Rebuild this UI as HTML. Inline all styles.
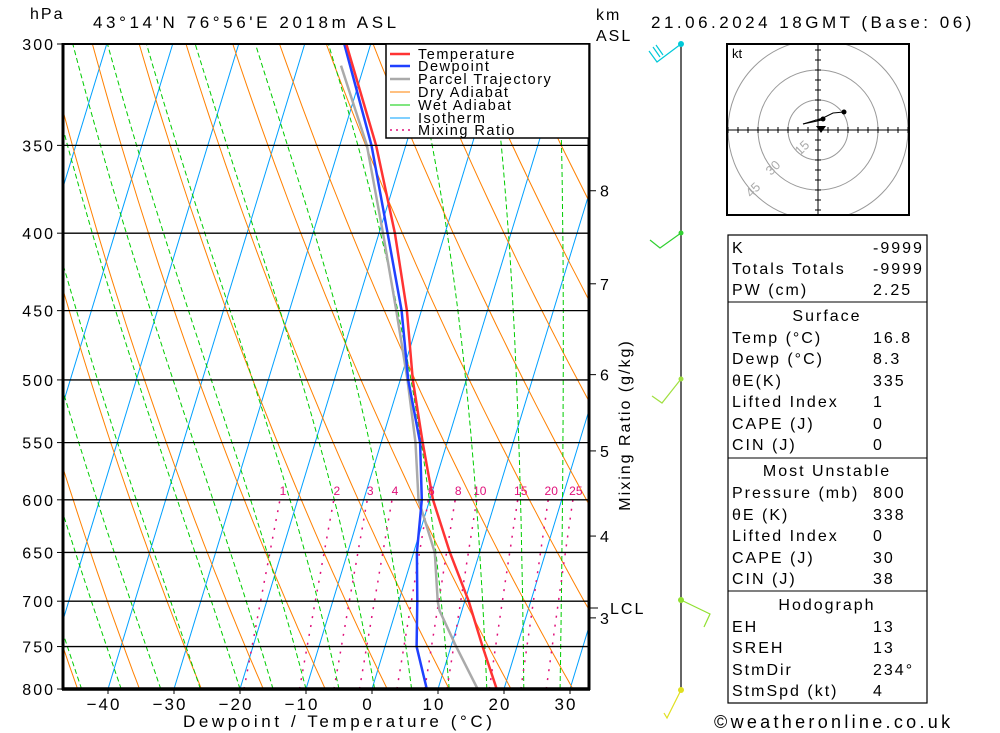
<!DOCTYPE html>
<html><head><meta charset="utf-8">
<style>
html,body{margin:0;padding:0;background:#fff;}
svg{display:block;font-family:"Liberation Sans",sans-serif;}
.t{font-size:16px;letter-spacing:2px;fill:#000;}
.lg{font-size:14.5px;letter-spacing:1.5px;fill:#000;}
</style></head>
<body>
<svg id="chart" width="1000" height="733" viewBox="0 0 1000 733" xmlns="http://www.w3.org/2000/svg">
<defs><clipPath id="pc"><rect x="63" y="44" width="526" height="645"/></clipPath></defs>
<g id="grid" clip-path="url(#pc)"></g>
<g id="series" clip-path="url(#pc)"></g>
<g id="axes"></g>

<text x="30" y="19" class="t">hPa</text>
<text x="93" y="28" class="t" style="font-size:17px;letter-spacing:3.6px">43°14'N  76°56'E  2018m  ASL</text>
<text x="596" y="20" class="t">km</text>
<text x="596" y="41" class="t">ASL</text>
<text x="651" y="28" class="t" style="font-size:17px;letter-spacing:3.5px">21.06.2024 18GMT (Base: 06)</text>
<text x="183" y="727" class="t" style="font-size:17px;letter-spacing:3.6px">Dewpoint / Temperature (°C)</text>
<text transform="translate(630,425) rotate(-90)" text-anchor="middle" class="t">Mixing Ratio (g/kg)</text>
<text x="714" y="728" class="t" style="font-size:18px;letter-spacing:3.3px">©weatheronline.co.uk</text>

<g>
<rect x="386" y="44" width="203" height="94" fill="#fff" stroke="#000" stroke-width="1.5"/>
<line x1="390" y1="54" x2="410" y2="54" stroke="#ff3333" stroke-width="2.5"/><text x="418" y="59" class="lg">Temperature</text>
<line x1="390" y1="66" x2="410" y2="66" stroke="#2040ff" stroke-width="2.5"/><text x="418" y="71" class="lg">Dewpoint</text>
<line x1="390" y1="79" x2="410" y2="79" stroke="#aaa" stroke-width="2.5"/><text x="418" y="84" class="lg">Parcel Trajectory</text>
<line x1="390" y1="92" x2="410" y2="92" stroke="#ff8000" stroke-width="1"/><text x="418" y="97" class="lg">Dry Adiabat</text>
<line x1="390" y1="105" x2="410" y2="105" stroke="#00cc00" stroke-width="1"/><text x="418" y="110" class="lg">Wet Adiabat</text>
<line x1="390" y1="118" x2="410" y2="118" stroke="#00a0ff" stroke-width="1"/><text x="418" y="123" class="lg">Isotherm</text>
<line x1="390" y1="130" x2="410" y2="130" stroke="#e0107a" stroke-width="1.5" stroke-dasharray="2,4"/><text x="418" y="135" class="lg">Mixing Ratio</text>
</g>

<g>
<line x1="681" y1="44" x2="681" y2="689" stroke="#000" stroke-width="1.2"/>
<circle cx="681" cy="44" r="3" fill="#00c8d8"/>
<path d="M681,44 L657,62 L649,51 M660,57 L653,47 M663,55 L656,45" fill="none" stroke="#00c8d8" stroke-width="1.2"/>
<circle cx="681" cy="233" r="2.5" fill="#30d030"/>
<path d="M681,233 L660,248 L650,240" fill="none" stroke="#30d030" stroke-width="1.2"/>
<circle cx="681" cy="379" r="2.5" fill="#a0e040"/>
<path d="M681,379 L662,403 L652,396" fill="none" stroke="#a0e040" stroke-width="1.2"/>
<circle cx="681" cy="600" r="3" fill="#90e030"/>
<path d="M681,600 L710,614 L704,627" fill="none" stroke="#90e030" stroke-width="1.2"/>
<circle cx="681" cy="690" r="3" fill="#e0e020"/>
<path d="M681,690 L667,718 L664,713" fill="none" stroke="#e0e020" stroke-width="1.2"/>
</g>

<g>
<clipPath id="hc"><rect x="727" y="44" width="182" height="171"/></clipPath>
<g clip-path="url(#hc)">
<circle cx="818" cy="130" r="30" fill="none" stroke="#999"/>
<circle cx="818" cy="130" r="60" fill="none" stroke="#999"/>
<circle cx="818" cy="130" r="90" fill="none" stroke="#999"/>
<line x1="727" y1="130" x2="909" y2="130" stroke="#000"/>
<line x1="818" y1="44" x2="818" y2="215" stroke="#000"/>
<g id="hticks"></g>
</g>
<rect x="727" y="44" width="182" height="171" fill="none" stroke="#000" stroke-width="2"/>
<text x="732" y="58" style="font-size:13px">kt</text>
<text transform="translate(800,156) rotate(-45)" style="font-size:13px" fill="#aaa">15</text>
<text transform="translate(771,176) rotate(-45)" style="font-size:13px" fill="#aaa">30</text>
<text transform="translate(751,198) rotate(-45)" style="font-size:13px" fill="#aaa">45</text>
<polyline points="803,124 823,118 833,113 844,112" fill="none" stroke="#000"/>
<line x1="803" y1="124" x2="822" y2="120" stroke="#000"/>
<circle cx="844" cy="112" r="2.5"/><circle cx="823" cy="119" r="2.5"/>
<polygon points="816,126 826,126 821,133" fill="#000"/>
</g>

<g id="table">
<rect x="728" y="235" width="199" height="468" fill="none" stroke="#000" stroke-width="1.2"/>
<line x1="728" y1="302" x2="927" y2="302" stroke="#000"/>
<line x1="728" y1="458" x2="927" y2="458" stroke="#000"/>
<line x1="728" y1="591" x2="927" y2="591" stroke="#000"/>
</g>
</svg>
<script>
// ---- data ----
const tempP = [800,750,700,650,600,550,500,450,400,350,300];
const tempT = [18.9,14.8,10.6,5.5,0.5,-3.7,-8.1,-12.2,-17.6,-24.5,-33.7];
const dewP  = [800,750,700,650,600,550,500,450,400,350,300];
const dewT  = [8.3,4.8,2.8,0.5,-1.2,-4.1,-8.8,-13.0,-18.7,-25.2,-34.0];
const parP  = [800,750,710,700,650,600,550,500,450,400,350,310];
const parT  = [16.0,10.8,6.6,5.9,3.2,-1.7,-4.8,-8.9,-13.8,-19.4,-25.9,-33.5];
const isobars = [300,350,400,450,500,550,600,650,700,750,800];
const xTicks = [-40,-30,-20,-10,0,10,20,30];
const mixRatios = [1,2,3,4,6,8,10,15,20,25];
const kmLabels = [8,7,6,5,4,3];
const kmPress = [375,432,496,557,634,718];
const tableRows = [["K","-9999",257],["Totals Totals","-9999",278],["PW (cm)","2.25",299],
 ["Surface","",325,1],["Temp (°C)","16.8",347],["Dewp (°C)","8.3",368],["θE(K)","335",390],
 ["Lifted Index","1",411],["CAPE (J)","0",433],["CIN (J)","0",454],
 ["Most Unstable","",480,1],["Pressure (mb)","800",502],["θE (K)","338",524],["Lifted Index","0",545],
 ["CAPE (J)","30",567],["CIN (J)","38",588],
 ["Hodograph","",614,1],["EH","13",636],["SREH","13",657],["StmDir","234°",679],["StmSpd (kt)","4",700]];

// ---- axis functions ----
const X0=372, PX=6.6, SK=0.305, YT=44, YB=689;
function yP(p){return YT+Math.log(p/300)/Math.log(800/300)*(YB-YT);}
function xT(t,p){return X0+PX*t+SK*(YB-yP(p));}
const NS='http://www.w3.org/2000/svg';
function mk(tag,attrs,parent){const e=document.createElementNS(NS,tag);for(const k in attrs)e.setAttribute(k,attrs[k]);parent.appendChild(e);return e;}
const grid=document.getElementById('grid'), series=document.getElementById('series'), axes=document.getElementById('axes');
function pathFrom(ps,ts){return ps.map((p,i)=>(i?'L':'M')+xT(ts[i],p).toFixed(1)+','+yP(p).toFixed(1)).join('');}

for(let t=-130;t<=40;t+=10){
  const l=mk('line',{x1:xT(t,800),y1:YB,x2:xT(t,300),y2:YT,stroke:'#00a0ff','stroke-width':1},grid);
  
  
}
for(let th=183.6;th<=480;th+=10){
  const ps=[],ts=[];
  for(let p=800;p>=300;p-=10){ps.push(p);ts.push(th*Math.pow(p/1000,0.286)-273.15);}
  const e=mk('path',{d:pathFrom(ps,ts),fill:'none',stroke:'#ff8000','stroke-width':1},grid);
  
  
}
function es(tc){return 6.112*Math.exp(17.67*tc/(tc+243.5));}
const wetStarts=[-62,-56,-50,-44,-38,-32,-26,-20,-15,-10,-5,0.4,6,11.7,17.4,23,28.5,34];
wetStarts.forEach(t0=>{
  let T=t0+273.15; const ps=[800],ts=[t0];
  for(let p=800;p>300;p-=2){
    const e=es(T-273.15), rs=0.622*e/(p-e);
    const dTdp=(287*T+2.5e6*rs)/(1004+2.5e6*2.5e6*rs*0.622/(287*T*T))/p;
    T-=dTdp*2;
    if((p-2)%10===0){ps.push(p-2);ts.push(T-273.15);}
  }
  const e=mk('path',{d:pathFrom(ps,ts),fill:'none',stroke:'#00cc00','stroke-width':1,'stroke-dasharray':'5,3'},grid);
  
  
});
function tdW(w,p){const e=w*p/(622+w);const a=Math.log(e/6.112);return 243.5*a/(17.67-a)+(2+0.4*w)/PX;}
mixRatios.forEach(w=>{
  const ps=[],ts=[];
  for(let p=800;p>=600;p-=10){ps.push(p);ts.push(tdW(w,p));}
  const e=mk('path',{d:pathFrom(ps,ts),fill:'none',stroke:'#e0107a','stroke-width':1.5,'stroke-dasharray':'2,7'},grid);
  
  
  const tx=mk('text',{x:xT(tdW(w,600),600)+3,y:495,'text-anchor':'middle',fill:'#e0107a','font-size':'12'},axes);
  tx.textContent=w;
  
  
});
isobars.forEach(p=>{
  const y=yP(p);
  const l=mk('line',{x1:63,y1:y,x2:589,y2:y,stroke:'#000','stroke-width':1.3},axes);
  
  
  mk('line',{x1:57,y1:y,x2:63,y2:y,stroke:'#000'},axes);
  const t=mk('text',{x:55,y:y+6,'text-anchor':'end',class:'t'},axes);
  t.textContent=p;
  
  
});
mk('line',{x1:63,y1:43,x2:63,y2:690,stroke:'#000','stroke-width':3},axes);
mk('line',{x1:62,y1:689,x2:590,y2:689,stroke:'#000','stroke-width':3.5},axes);
mk('line',{x1:589,y1:43,x2:589,y2:690,stroke:'#000','stroke-width':3},axes);
mk('line',{x1:62,y1:44,x2:590,y2:44,stroke:'#000','stroke-width':2},axes);
xTicks.forEach(t=>{
  const x=xT(t,800);
  mk('line',{x1:x,y1:689,x2:x,y2:694,stroke:'#000'},axes);
  const tx=mk('text',{x:x-4,y:710,'text-anchor':'middle',class:'t',style:'font-size:17px'},axes);
  tx.textContent=(t<0?'−':'')+Math.abs(t);
  
  
});
kmLabels.forEach((k,i)=>{
  const y=yP(kmPress[i]);
  mk('line',{x1:589,y1:y,x2:596,y2:y,stroke:'#000'},axes);
  const tx=mk('text',{x:600,y:y+6,class:'t'},axes);
  tx.textContent=k;
  
  
});
mk('line',{x1:589,y1:608,x2:598,y2:608,stroke:'#000'},axes);
const lcl=mk('text',{x:610,y:614,class:'t'},axes); lcl.textContent='LCL';



const par=mk('path',{d:pathFrom(parP,parT),fill:'none',stroke:'#aaa','stroke-width':2.5},series);


const dew=mk('path',{d:pathFrom(dewP,dewT),fill:'none',stroke:'#2040ff','stroke-width':2.5},series);


const tmp=mk('path',{d:pathFrom(tempP,tempT),fill:'none',stroke:'#ff3333','stroke-width':2.5},series);



const ht=document.getElementById('hticks');
for(let i=-9;i<=9;i++){ if(!i) continue;
  mk('line',{x1:818+i*10,y1:127,x2:818+i*10,y2:133,stroke:'#000'},ht);
  mk('line',{x1:815,y1:130+i*10,x2:821,y2:130+i*10,stroke:'#000'},ht);
}
const tb=document.getElementById('table');
tableRows.forEach(r=>{
  const tx=mk('text',{x:r[3]?827:732,y:r[2]-4,class:'t','text-anchor':r[3]?'middle':'start'},tb);
  tx.textContent=r[0];
  
  
  if(r[1]){const v=mk('text',{x:873,y:r[2]-4,class:'t'},tb);v.textContent=r[1];
    
    }
});
</script>
</body></html>
